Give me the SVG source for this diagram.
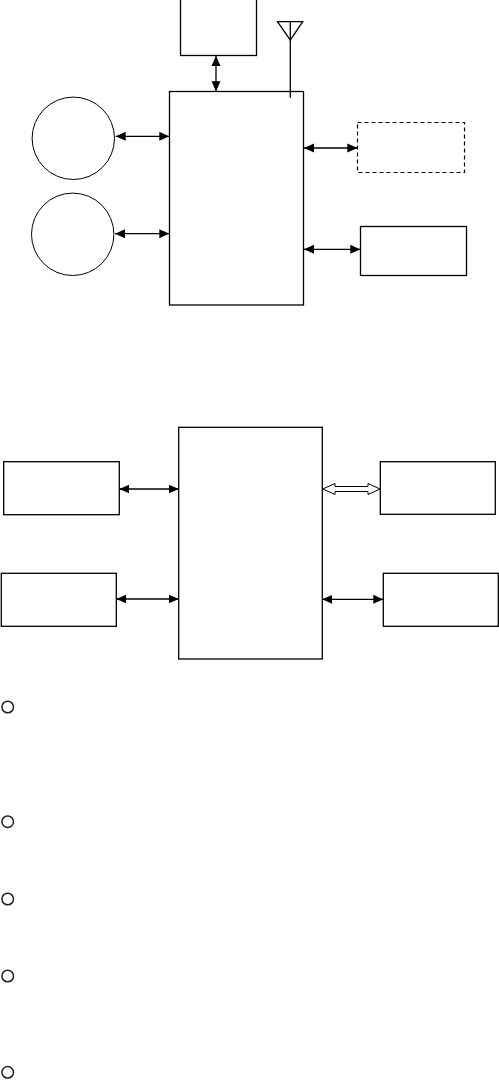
<svg xmlns="http://www.w3.org/2000/svg" width="499" height="1080" viewBox="0 0 499 1080">
<style>
.b{fill:#fff;stroke:#000;stroke-width:1.3}
.c{fill:#fff;stroke:#000;stroke-width:1}
.l{stroke:#000;stroke-width:1.3;fill:none}
.d{fill:#fff;stroke:#000;stroke-width:1.2;stroke-dasharray:4 3}
.s{fill:none;stroke:#222;stroke-width:1.5}
</style>
<defs>
<marker id="ah" viewBox="0 0 10 10" refX="10" refY="5" markerWidth="10" markerHeight="10" markerUnits="userSpaceOnUse" orient="auto-start-reverse">
<path d="M0,0.5 L10,5 L0,9.5 Z" fill="#000"/>
</marker>
</defs>
<rect width="499" height="1080" fill="#fff"/>
<g id="top-box"><rect class="b" x="180.5" y="-2" width="76" height="57.5"/></g>
<g id="main-top"><rect class="b" x="169.5" y="91.5" width="134" height="213.5"/></g>
<g id="antenna">
<path class="l" d="M277.5,21.7 L302.7,21.7 L290.3,40 Z"/>
<line class="l" x1="290.3" y1="21.7" x2="290.3" y2="97.7"/>
</g>
<g id="circle1"><circle class="c" cx="73.3" cy="138.3" r="41.2"/></g>
<g id="circle2"><circle class="c" cx="72.7" cy="234.3" r="41.2"/></g>
<g id="dashed-box"><rect class="d" x="357.5" y="122.5" width="107" height="50"/></g>
<g id="right-box1"><rect class="b" x="360.5" y="226.5" width="106" height="49"/></g>
<g id="main-bottom"><rect class="b" x="178.7" y="427.3" width="143.6" height="231.7"/></g>
<g id="lb1"><rect class="b" x="3.7" y="461.7" width="115.6" height="53" stroke="#555"/></g>
<g id="lb2"><rect class="b" x="1.3" y="573.3" width="115" height="53"/></g>
<g id="rb1"><rect class="b" x="380.3" y="461.7" width="115" height="52.6"/></g>
<g id="rb2"><rect class="b" x="383.3" y="573.3" width="115" height="53"/></g>
<g id="bullets">
<circle class="s" cx="7.7" cy="707" r="5.8"/>
<circle class="s" cx="7.7" cy="821.7" r="5.8"/>
<circle class="s" cx="7.7" cy="899" r="5.8"/>
<circle class="s" cx="7.7" cy="976" r="5.8"/>
<circle class="s" cx="7.7" cy="1072.3" r="5.8"/>
</g>
<g id="connectors">
<line class="l" x1="216" y1="56" x2="216" y2="91.3" marker-start="url(#ah)" marker-end="url(#ah)"/>
<line class="l" x1="115.7" y1="136.3" x2="169.3" y2="136.3" marker-start="url(#ah)" marker-end="url(#ah)"/>
<line class="l" x1="115" y1="233.7" x2="169.3" y2="233.7" marker-start="url(#ah)" marker-end="url(#ah)"/>
<line class="l" x1="304" y1="148" x2="357.3" y2="148" marker-start="url(#ah)" marker-end="url(#ah)" stroke="#444"/>
<line class="l" x1="304" y1="249.3" x2="360.3" y2="249.3" marker-start="url(#ah)" marker-end="url(#ah)" stroke="#444"/>
<line class="l" x1="119.3" y1="489" x2="178.7" y2="489" marker-start="url(#ah)" marker-end="url(#ah)" stroke="#555"/>
<line class="l" x1="116.3" y1="599" x2="178.7" y2="599" marker-start="url(#ah)" marker-end="url(#ah)" stroke="#555"/>
<line class="l" x1="322.3" y1="599.3" x2="383.3" y2="599.3" marker-start="url(#ah)" marker-end="url(#ah)"/>
<path d="M322.8,489 L335,483.5 L335,486.5 L368,486.5 L368,483.5 L380,489 L368,494.5 L368,491.5 L335,491.5 L335,494.5 Z" fill="#fff" stroke="#000" stroke-width="1"/>
</g>
</svg>
